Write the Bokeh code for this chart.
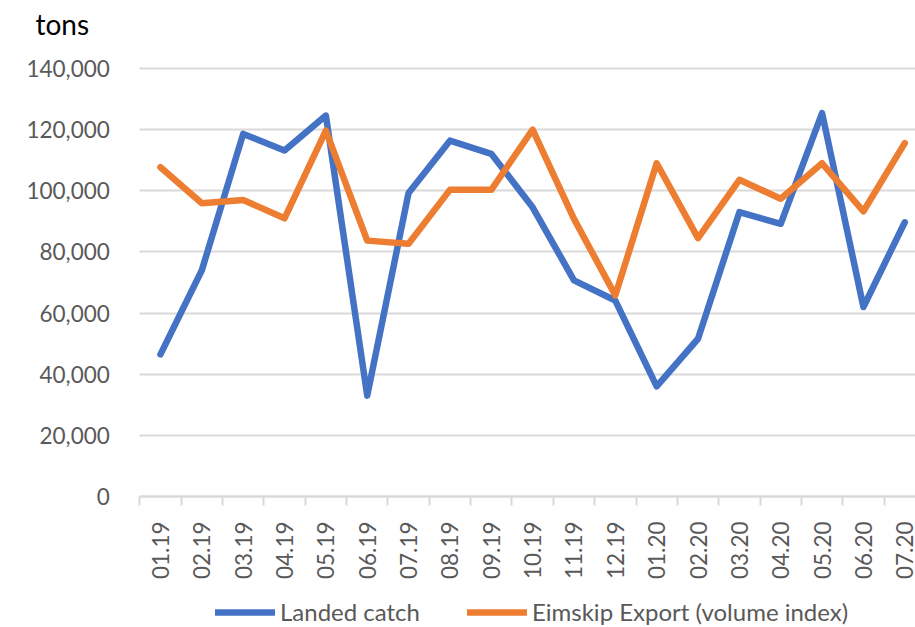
from bokeh.plotting import figure
from bokeh.models import (Range1d, FixedTicker, NumeralTickFormatter, Legend, LegendItem,
                          ColumnDataSource, Label)
from bokeh.embed import file_html
from bokeh.resources import INLINE
import math

months = ["01.19", "02.19", "03.19", "04.19", "05.19", "06.19", "07.19", "08.19", "09.19",
          "10.19", "11.19", "12.19", "01.20", "02.20", "03.20", "04.20", "05.20", "06.20", "07.20"]
landed_catch = [46500, 74000, 118600, 113200, 124600, 33000, 99300, 116400, 112100,
                94600, 70700, 64100, 36000, 51600, 93000, 89200, 125400, 62000, 89700]
eimskip_export = [107700, 95900, 97000, 91000, 119700, 83700, 82700, 100300, 100300,
                  120000, 90800, 65800, 109000, 84500, 103600, 97400, 109000, 93300, 115600]
y_ticks = [0, 20000, 40000, 60000, 80000, 100000, 120000, 140000]

FONT = "Lato"
GRAY = "#595959"
GRID = "#d9d9d9"
BLUE = "#4472C4"
ORANGE = "#ED7D31"

W, H = 915, 627
PX_PER_CAT = 41.35
X0_PX = 139.3            # pixel of category band start
Y_TOP_PX, Y_BOT_PX = 68, 496   # pixels of 140,000 and 0
ymax = y_ticks[-1]
px_per_unit = (Y_BOT_PX - Y_TOP_PX) / ymax

x_start = -0.5 - X0_PX / PX_PER_CAT
x_end = -0.5 + (W - X0_PX) / PX_PER_CAT
y_end = ymax + Y_TOP_PX / px_per_unit
y_start = -(H - Y_BOT_PX) / px_per_unit

idx = list(range(len(months)))
src = ColumnDataSource(dict(x=idx, landed=landed_catch, export=eimskip_export))

p = figure(output_backend="svg", toolbar_location=None,
           frame_width=W, frame_height=H,
           min_border_left=0, min_border_right=0, min_border_top=0, min_border_bottom=0,
           x_range=Range1d(x_start, x_end), y_range=Range1d(y_start, y_end),
           background_fill_color="white", border_fill_color="white")
p.outline_line_color = None

r1 = p.line("x", "landed", source=src, line_color=BLUE, line_width=6.5,
            line_join="round", line_cap="round")
r2 = p.line("x", "export", source=src, line_color=ORANGE, line_width=6.5,
            line_join="round", line_cap="round")

# x axis (pinned at y = 0)
xa = p.xaxis[0]
xa.fixed_location = 0
xa.bounds = (-0.5, x_end)
xa.ticker = FixedTicker(ticks=idx, minor_ticks=[i - 0.5 for i in range(len(months) + 1)])
xa.major_label_overrides = {i: m for i, m in enumerate(months)}
xa.major_label_orientation = math.pi / 2
xa.major_tick_out = 0
xa.major_tick_in = 0
xa.minor_tick_out = 9
xa.minor_tick_in = 0
xa.minor_tick_line_color = GRID
xa.minor_tick_line_width = 2
xa.axis_line_color = GRID
xa.axis_line_width = 2
xa.major_label_standoff = 16
xa.major_label_text_font = FONT
xa.major_label_text_font_size = "22.5px"
xa.major_label_text_color = GRAY

# y axis (pinned at the category band start)
ya = p.yaxis[0]
ya.fixed_location = -0.5
ya.bounds = (0, ymax)
ya.ticker = FixedTicker(ticks=y_ticks)
ya.formatter = NumeralTickFormatter(format="0,0")
ya.axis_line_color = None
ya.major_tick_line_color = None
ya.minor_tick_line_color = None
ya.major_label_standoff = 24
ya.major_label_text_font = FONT
ya.major_label_text_font_size = "22.5px"
ya.major_label_text_color = GRAY

p.xgrid.grid_line_color = None
p.ygrid.grid_line_color = GRID
p.ygrid.grid_line_width = 2
p.ygrid.bounds = (0, ymax)
p.ygrid.cross_bounds = (-0.5, x_end)

title = Label(x=35, y=H - 23, x_units="screen", y_units="screen", text="tons",
              text_font=FONT, text_font_size="28px", text_color="black",
              text_baseline="alphabetic")
p.add_layout(title)

legend = Legend(items=[LegendItem(label="Landed catch", renderers=[r1]),
                       LegendItem(label="Eimskip Export (volume index)", renderers=[r2])],
                location=(215, 1), orientation="horizontal",
                glyph_width=60, glyph_height=20, label_height=20, label_standoff=5,
                spacing=47, padding=0, margin=0,
                label_text_font=FONT, label_text_font_size="24px", label_text_color=GRAY,
                border_line_color=None, background_fill_alpha=0)
p.add_layout(legend, "center")

open("out.html", "w").write(file_html(p, INLINE))
